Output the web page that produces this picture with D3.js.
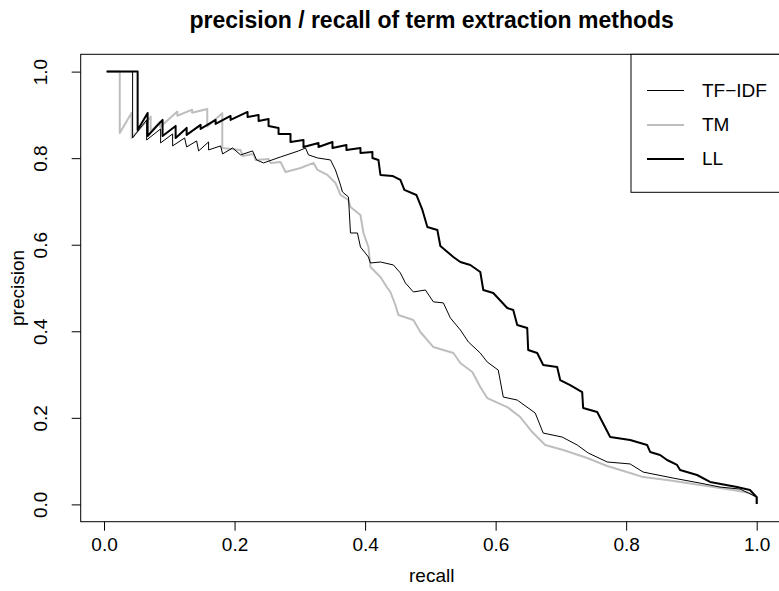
<!DOCTYPE html>
<html>
<head>
<meta charset="utf-8">
<script src="https://cdn.jsdelivr.net/npm/d3@7"></script>
<style>
  body { margin: 0; background: #fff; }
  svg { font-family: "Liberation Sans", Arial, Helvetica, sans-serif; }
</style>
</head>
<body>
<div class="module"></div>
<script>
// precision / recall points [recall, precision]
const tfidf = [
  [0.0041, 1.0], [0.0438, 1.0], [0.0438, 0.8468], [0.0653, 0.8884], [0.0653, 0.8421],
  [0.0867, 0.8676], [0.0867, 0.8352], [0.1051, 0.8560], [0.1051, 0.8283], [0.1235, 0.8467],
  [0.1266, 0.8259], [0.1419, 0.8398], [0.1449, 0.8167], [0.1602, 0.8375], [0.1602, 0.8190],
  [0.1786, 0.8283], [0.1817, 0.8098], [0.1970, 0.8236], [0.2092, 0.8075], [0.2276, 0.8167],
  [0.2337, 0.7959], [0.2444, 0.7890], [0.2704, 0.8028], [0.2980, 0.8167], [0.3087, 0.8236],
  [0.3133, 0.8075], [0.3271, 0.8005], [0.3470, 0.7959], [0.3546, 0.7728], [0.3623, 0.7381],
  [0.3653, 0.7219], [0.3745, 0.7103], [0.3776, 0.6271], [0.3883, 0.6271], [0.3929, 0.5947],
  [0.4051, 0.5717], [0.4082, 0.5578], [0.4235, 0.5601], [0.4434, 0.5532], [0.4541, 0.5347],
  [0.4618, 0.5116], [0.4740, 0.4908], [0.4924, 0.4954], [0.5046, 0.4680], [0.5199, 0.4656],
  [0.5306, 0.4309], [0.5459, 0.4032], [0.5582, 0.3754], [0.5765, 0.3497], [0.5872, 0.3289],
  [0.6040, 0.3104], [0.6117, 0.2480], [0.6331, 0.2411], [0.6607, 0.2110], [0.6729, 0.1648],
  [0.7020, 0.1556], [0.7249, 0.1373], [0.7418, 0.1188], [0.7709, 0.0980], [0.8061, 0.0934],
  [0.8260, 0.0747], [0.8719, 0.0608], [0.9133, 0.0492], [0.9439, 0.0400], [0.9745, 0.0354],
  [1.0, 0.0169], [1.0, 0.0007]
];

const tm = [
  [0.0041, 1.0], [0.0241, 1.0], [0.0241, 0.8583], [0.0424, 0.9050], [0.0424, 0.8467],
  [0.0715, 0.8960], [0.0715, 0.8620], [0.0860, 0.8840], [0.0860, 0.8720], [0.1123, 0.9076],
  [0.1123, 0.8980], [0.1350, 0.9120], [0.1350, 0.9050], [0.1582, 0.9137], [0.1582, 0.8730],
  [0.1812, 0.9040], [0.1812, 0.8236], [0.2092, 0.8190], [0.2123, 0.8051], [0.2291, 0.8098],
  [0.2322, 0.7959], [0.2521, 0.7982], [0.2552, 0.7890], [0.2704, 0.7913], [0.2781, 0.7682],
  [0.3011, 0.7774], [0.3210, 0.7890], [0.3271, 0.7728], [0.3424, 0.7612], [0.3546, 0.7427],
  [0.3623, 0.7150], [0.3745, 0.7034], [0.3776, 0.6872], [0.3929, 0.6687], [0.3975, 0.6271],
  [0.4051, 0.5947], [0.4082, 0.5485], [0.4235, 0.5254], [0.4342, 0.5000], [0.4388, 0.4908],
  [0.4464, 0.4607], [0.4510, 0.4376], [0.4740, 0.4260], [0.4847, 0.3983], [0.5046, 0.3636],
  [0.5352, 0.3497], [0.5459, 0.3266], [0.5643, 0.3058], [0.5765, 0.2711], [0.5872, 0.2457],
  [0.6178, 0.2249], [0.6377, 0.2018], [0.6561, 0.1671], [0.6760, 0.1373], [0.7036, 0.1257],
  [0.7403, 0.1072], [0.7709, 0.0887], [0.8061, 0.0724], [0.8260, 0.0631], [0.8627, 0.0564],
  [0.9133, 0.0448], [0.9638, 0.0333], [0.9897, 0.0263], [1.0, 0.0169], [1.0, 0.0007]
];

const ll = [
  [0.0041, 1.0], [0.0515, 1.0], [0.0515, 0.8653], [0.0668, 0.9045], [0.0668, 0.8513],
  [0.0897, 0.8884], [0.0897, 0.8513], [0.1097, 0.8745], [0.1097, 0.8467], [0.1266, 0.8699],
  [0.1266, 0.8537], [0.1480, 0.8768], [0.1480, 0.8676], [0.1710, 0.8884], [0.1710, 0.8791],
  [0.1939, 0.8976], [0.1939, 0.8884], [0.2199, 0.9068], [0.2199, 0.8953], [0.2368, 0.8999],
  [0.2368, 0.8861], [0.2521, 0.8907], [0.2521, 0.8745], [0.2674, 0.8699], [0.2674, 0.8560],
  [0.2857, 0.8560], [0.2857, 0.8375], [0.3056, 0.8421], [0.3056, 0.8259], [0.3286, 0.8352],
  [0.3286, 0.8259], [0.3500, 0.8375], [0.3500, 0.8236], [0.3714, 0.8306], [0.3714, 0.8190],
  [0.3929, 0.8236], [0.3929, 0.8121], [0.4112, 0.8144], [0.4112, 0.8005], [0.4204, 0.7959],
  [0.4235, 0.7612], [0.4419, 0.7589], [0.4541, 0.7497], [0.4602, 0.7266], [0.4786, 0.7150],
  [0.4878, 0.6803], [0.4954, 0.6410], [0.5107, 0.6341], [0.5153, 0.5971], [0.5352, 0.5717],
  [0.5459, 0.5601], [0.5612, 0.5532], [0.5765, 0.5370], [0.5811, 0.4954], [0.5964, 0.4885],
  [0.6178, 0.4538], [0.6270, 0.4491], [0.6331, 0.4145], [0.6484, 0.4075], [0.6499, 0.3567],
  [0.6637, 0.3497], [0.6729, 0.3220], [0.6943, 0.3174], [0.6989, 0.2873], [0.7142, 0.2758],
  [0.7326, 0.2596], [0.7341, 0.2226], [0.7556, 0.2134], [0.7755, 0.1556], [0.8061, 0.1487],
  [0.8321, 0.1373], [0.8367, 0.1211], [0.8520, 0.1142], [0.8627, 0.1026], [0.8780, 0.0911],
  [0.8826, 0.0795], [0.9086, 0.0679], [0.9285, 0.0518], [0.9698, 0.0402], [0.9897, 0.0333],
  [1.0, 0.0169], [1.0, 0.0007]
];

const methods = ["TF\u2212IDF", "TM", "LL"];
const tickValues = [0, 0.2, 0.4, 0.6, 0.8, 1.0];

const series = [
  { name: methods[1], values: tm, color: "#bebebe", width: 2 },
  { name: methods[0], values: tfidf, color: "#000", width: 1 },
  { name: methods[2], values: ll, color: "#000", width: 2 }
];

const width = 779, height = 591;
const box = { left: 80.7, top: 54.3, right: 782.7, bottom: 521.7 };

const svg = d3.select(".module")
  .append("svg")
    .attr("width", width)
    .attr("height", height);

// R style 4% padding around the data range
const xMin = d3.min(tfidf, d => d[0]);
const xPad = 0.04 * (1 - xMin);
const x = d3.scaleLinear()
    .domain([xMin - xPad, 1 + xPad])
    .range([box.left, box.right]);

const y = d3.scaleLinear()
    .domain([-0.04, 1.04])
    .range([box.bottom, box.top]);

const line = d3.line()
    .x(d => x(d[0]))
    .y(d => y(d[1]));

svg.selectAll("path.series")
  .data(series)
  .enter()
  .append("path")
    .attr("class", "series")
    .attr("d", d => line(d.values))
    .attr("fill", "none")
    .attr("stroke", d => d.color)
    .attr("stroke-width", d => d.width)
    .attr("stroke-linejoin", "round");

// x axis
const xAxis = svg.append("g")
    .attr("transform", "translate(0," + box.bottom + ")")
    .call(d3.axisBottom(x)
      .tickValues(tickValues)
      .tickSize(9)
      .tickPadding(7)
      .tickFormat(d3.format(".1f")));
xAxis.select(".domain").remove();
xAxis.selectAll("text").attr("font-size", 19).attr("fill", "#000");

// y axis, labels turned like R does
const yAxis = svg.append("g")
    .attr("transform", "translate(" + box.left + ",0)")
    .call(d3.axisLeft(y)
      .tickValues(tickValues)
      .tickSize(9)
      .tickFormat(d3.format(".1f")));
yAxis.select(".domain").remove();
yAxis.selectAll("text")
    .attr("font-size", 19)
    .attr("fill", "#000")
    .attr("text-anchor", "middle")
    .attr("transform", "rotate(-90)")
    .attr("x", 0)
    .attr("y", -34)
    .attr("dy", 0);

// plot frame
svg.append("rect")
    .attr("x", box.left)
    .attr("y", box.top)
    .attr("width", box.right - box.left)
    .attr("height", box.bottom - box.top)
    .attr("fill", "none")
    .attr("stroke", "#000")
    .attr("stroke-width", 1);

const cx = (box.left + box.right) / 2;

svg.append("text")
    .attr("x", cx)
    .attr("y", 28)
    .attr("text-anchor", "middle")
    .attr("font-size", 23)
    .attr("font-weight", "bold")
    .text("precision / recall of term extraction methods");

svg.append("text")
    .attr("x", cx)
    .attr("y", 582)
    .attr("text-anchor", "middle")
    .attr("font-size", 19)
    .text("recall");

svg.append("text")
    .attr("transform", "translate(24," + ((box.top + box.bottom) / 2) + ") rotate(-90)")
    .attr("text-anchor", "middle")
    .attr("font-size", 19)
    .text("precision");

// legend
const legend = svg.append("g");
legend.append("rect")
    .attr("x", 631)
    .attr("y", box.top)
    .attr("width", 200)
    .attr("height", 138)
    .attr("fill", "#fff")
    .attr("stroke", "#000");

const legendRows = [series[1], series[0], series[2]];
const row = legend.selectAll("g.row")
  .data(legendRows)
  .enter()
  .append("g")
    .attr("class", "row")
    .attr("transform", (d, i) => "translate(0," + (90.5 + i * 34) + ")");

row.append("line")
    .attr("x1", 647)
    .attr("x2", 684)
    .attr("stroke", d => d.color)
    .attr("stroke-width", d => d.width)
    .attr("shape-rendering", "crispEdges");

row.append("text")
    .attr("x", 702)
    .attr("dy", "0.35em")
    .attr("font-size", 19)
    .text(d => d.name);
</script>
</body>
</html>
